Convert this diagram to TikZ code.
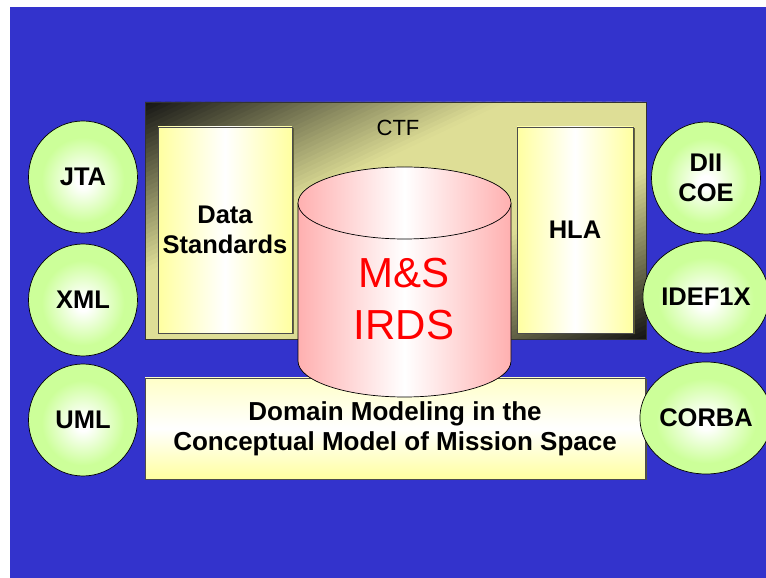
\documentclass[tikz,border=0pt]{standalone}
\usepackage{fontspec}
\setmainfont{Liberation Sans}
\usetikzlibrary{shapes.geometric,shadows}

\definecolor{bgblue}{RGB}{51,51,204}
\definecolor{ballgreen}{RGB}{204,255,153}
\definecolor{paleyellow}{RGB}{255,255,160}
\definecolor{softyellow}{RGB}{255,255,200}
\definecolor{pinkside}{RGB}{255,176,176}
\definecolor{ctfdark}{RGB}{20,20,20}
\definecolor{ctfmid}{RGB}{222,222,150}
\definecolor{shadowolive}{RGB}{90,90,50}

% ball shading: white core, green rim
\pgfdeclareradialshading{ballshade}{\pgfpoint{0bp}{-2bp}}{color(0bp)=(white); color(3bp)=(white);
  color(19bp)=(ballgreen); color(50bp)=(ballgreen)}

\tikzset{
  ball/.style={ellipse, draw=black, line width=0.7pt, minimum width=109pt, minimum height=112pt,
    inner sep=0pt, shade, shading=ballshade, align=center,
    font=\bfseries\fontsize{25.5}{30}\selectfont},
  pane/.style={rectangle, draw=black!70, line width=0.6pt, inner sep=0pt,
    left color=paleyellow, right color=paleyellow, middle color=white,
    drop shadow={shadow xshift=1.5pt, shadow yshift=-1.5pt, fill=shadowolive, opacity=0.9},
    align=center, font=\bfseries\fontsize{25.5}{29.5}\selectfont},
  cylline/.style={draw=black, line width=0.7pt},
}

\begin{document}
\begin{tikzpicture}[x=1pt,y=1pt]
\useasboundingbox (0,0) rectangle (766,578);
\fill[white] (0,0) rectangle (766,578);
\fill[bgblue] (10,0) rectangle (766,571);

% CTF frame: diagonal gradient built from thin strips, dark in two corners
\def\fx{145}\def\fw{501}\def\ftop{476}\def\fbot{239}
\begin{scope}
  \clip (\fx,\fbot) rectangle (\fx+\fw,\ftop);
  \foreach \i in {0,...,99}{
    \pgfmathsetmacro\ta{\i/100}
    \pgfmathsetmacro\tb{(\i+1.6)/100}
    \pgfmathsetmacro\tm{(\i+0.5)/100}
    \pgfmathsetmacro\p{100*min(1,min(\tm/0.36,(1-\tm)/0.36))}
    \fill[ctfmid!\p!ctfdark]
      (\fx+2*\ta*\fw,\ftop) -- (\fx+2*\tb*\fw,\ftop) --
      (\fx+2*\tb*\fw-\fw,\fbot) -- (\fx+2*\ta*\fw-\fw,\fbot) -- cycle;
  }
\end{scope}
\node[rectangle, draw=black!80, line width=0.7pt, inner sep=0pt,
      minimum width=501pt, minimum height=237pt] (ctf) at (395.5,357.5) {};
\node[font=\fontsize{22}{26}\selectfont] (ctflabel) at (398,450) {CTF};

% inner panes
\node[pane, minimum width=134pt, minimum height=206pt] (data) at (225,348) {Data\\Standards};
\node[pane, minimum width=116pt, minimum height=206pt] (hla) at (575,348) {HLA};

% domain modeling bar
\node[pane, top color=softyellow, bottom color=paleyellow, middle color=white,
      minimum width=500pt, minimum height=101pt, font=\bfseries\fontsize{26}{30}\selectfont]
      (domain) at (395,149.5)
      {Domain Modeling in the\\Conceptual Model of Mission Space};

% repository cylinder
\def\cx{404.5}\def\rx{106.5}\def\ry{36}\def\ytop{375}\def\ybot{217}
\path[left color=pinkside, right color=pinkside, middle color=white]
  (\cx-\rx,\ytop) -- (\cx-\rx,\ybot)
  arc[start angle=180, end angle=360, x radius=\rx, y radius=\ry]
  -- (\cx+\rx,\ytop) -- cycle;
\draw[cylline] (\cx-\rx,\ytop) -- (\cx-\rx,\ybot)
  arc[start angle=180, end angle=360, x radius=\rx, y radius=\ry] -- (\cx+\rx,\ytop);
\path[left color=pinkside, right color=pinkside, middle color=white, cylline]
  (\cx,\ytop) ellipse[x radius=\rx, y radius=\ry];
\node[text=red, align=center, font=\fontsize{42}{52}\selectfont] (irds) at (404,279) {M\&S\\IRDS};

% standards around the frame
\node[ball] (jta) at (83,401) {JTA};
\node[ball] (xml) at (83,278) {XML};
\node[ball] (uml) at (83,158) {UML};
\node[ball] (dii) at (706,400) {DII\\COE};
\node[ball] (idef) at (706,281) {IDEF1X};
\node[ball] (corba) at (706,160) {CORBA};
\end{tikzpicture}
\end{document}
